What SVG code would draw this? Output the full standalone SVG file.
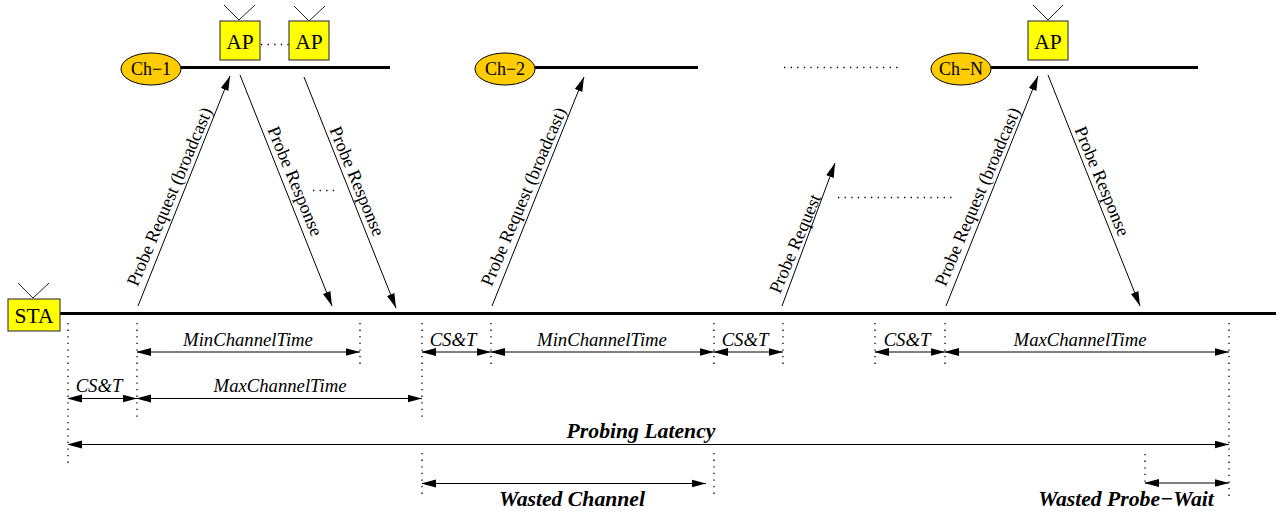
<svg xmlns="http://www.w3.org/2000/svg" width="1281" height="515" viewBox="0 0 1281 515">
<style>
text{font-family:"Liberation Serif","Times New Roman",serif;fill:#000;text-anchor:middle}
.box{fill:#ff0;stroke:#444;stroke-width:1.2}
.ell{fill:#fc0;stroke:#000;stroke-width:1}
.ant{fill:none;stroke:#222;stroke-width:1}
.bus{stroke:#000;stroke-width:3.2;fill:none}
.msg{stroke:#000;stroke-width:1;fill:none;marker-end:url(#a)}
.dim{stroke:#000;stroke-width:1;fill:none;marker-start:url(#b);marker-end:url(#a)}
.dot{stroke:#000;stroke-width:1.3;stroke-dasharray:1.3 5.300;fill:none}
.node{font-size:21.5px}
.ch{font-size:18px}
.lab{font-size:18.2px}
.t{font-size:18.7px;font-style:italic}
.b{font-size:21.7px;font-style:italic;font-weight:bold}
</style>
<defs>
<marker id="a" markerUnits="userSpaceOnUse" markerWidth="15" markerHeight="9" refX="14.5" refY="4.5" orient="auto"><path d="M0 .5L14.5 4.5L0 8.500Z" fill="#000"/></marker>
<marker id="b" markerUnits="userSpaceOnUse" markerWidth="15" markerHeight="9" refX="0.5" refY="4.5" orient="auto"><path d="M14.5 .5L0 4.5L14.5 8.500Z" fill="#000"/></marker>
</defs>
<g id="connectors">
<path class="bus" d="M180 67.5H390"/>
<path class="bus" d="M535 67.5H698"/>
<path class="bus" d="M990 67.5H1198"/>
<path class="bus" d="M60 313.5H1276"/>
<path class="msg" d="M138 306L230 76"/>
<path class="msg" d="M240 75L332 306"/>
<path class="msg" d="M304 77L396 308"/>
<path class="msg" d="M492 306L584 77"/>
<path class="msg" d="M782 306L835 163"/>
<path class="msg" d="M946 306L1038 76"/>
<path class="msg" d="M1048 75L1140 306"/>
<path class="dot" d="M261 44.500H289M313 190.500H335M784 67.500H898M838 197.500H952"/>
<path class="dot" d="M68 323V467M137 323V417M360 323V368M422 323V417M491 323V368M714 323V368M783 323V368M875 323V368M945 323V368M1229 323V497M422 453V499M714 453V499M1145 454V487"/>
<path class="dim" d="M137 352H360"/>
<path class="dim" d="M422 352H491"/>
<path class="dim" d="M491 352H714"/>
<path class="dim" d="M714 352H783"/>
<path class="dim" d="M875 352H945"/>
<path class="dim" d="M945 352H1229"/>
<path class="dim" d="M68 398.500H137"/>
<path class="dim" d="M137 398.500H422"/>
<path class="dim" d="M68 444.500H1229"/>
<path class="dim" d="M422 483.500H706"/>
<path class="dim" d="M1145 483H1229"/>
</g>
<g id="labels">
<text class="lab" transform="translate(175 199) rotate(-67)">Probe Request (broadcast)</text>
<text class="lab" transform="translate(289.500 183.500) rotate(67.500)">Probe Response</text>
<text class="lab" transform="translate(351.500 183.500) rotate(67.500)">Probe Response</text>
<text class="lab" transform="translate(529 199) rotate(-67)">Probe Request (broadcast)</text>
<text class="lab" transform="translate(800.500 246) rotate(-67)">Probe Request</text>
<text class="lab" transform="translate(983 199) rotate(-67)">Probe Request (broadcast)</text>
<text class="lab" transform="translate(1096.500 183.500) rotate(67.500)">Probe Response</text>
<text class="t" x="248" y="345.500">MinChannelTime</text>
<text class="t" x="602" y="345.500">MinChannelTime</text>
<text class="t" x="280" y="391.500">MaxChannelTime</text>
<text class="t" x="1080" y="345.500">MaxChannelTime</text>
<text class="t" x="99" y="391.500">CS&amp;T</text>
<text class="t" x="453" y="345.500">CS&amp;T</text>
<text class="t" x="745" y="345.500">CS&amp;T</text>
<text class="t" x="907" y="345.500">CS&amp;T</text>
<text class="b" x="641" y="437.500">Probing Latency</text>
<text class="b" x="572" y="505.500">Wasted Channel</text>
<text class="b" x="1126" y="505.500">Wasted Probe−Wait</text>
</g>
<g id="sta"><path class="ant" d="M18 283L33 298L49 283"/><rect class="box" x="8" y="299" width="52" height="32"/><text class="node" x="34" y="323">STA</text></g>
<g id="ap-1"><path class="ant" d="M224 5L239 20L255 5"/><rect class="box" x="220" y="21" width="40" height="39"/><text class="node" x="240" y="49">AP</text></g>
<g id="ap-2"><path class="ant" d="M294 6L309 21L325 6"/><rect class="box" x="289" y="21" width="40" height="39"/><text class="node" x="309" y="49">AP</text></g>
<g id="ap-n"><path class="ant" d="M1033 5L1048 20L1063 5"/><rect class="box" x="1028" y="21" width="40" height="39"/><text class="node" x="1048" y="49">AP</text></g>
<g id="ch-1"><ellipse class="ell" cx="151" cy="69" rx="30" ry="16"/><text class="ch" x="151" y="75">Ch−1</text></g>
<g id="ch-2"><ellipse class="ell" cx="505" cy="69" rx="30" ry="16"/><text class="ch" x="505" y="75">Ch−2</text></g>
<g id="ch-n"><ellipse class="ell" cx="961" cy="69" rx="30" ry="16"/><text class="ch" x="961" y="75">Ch−N</text></g>
</svg>
